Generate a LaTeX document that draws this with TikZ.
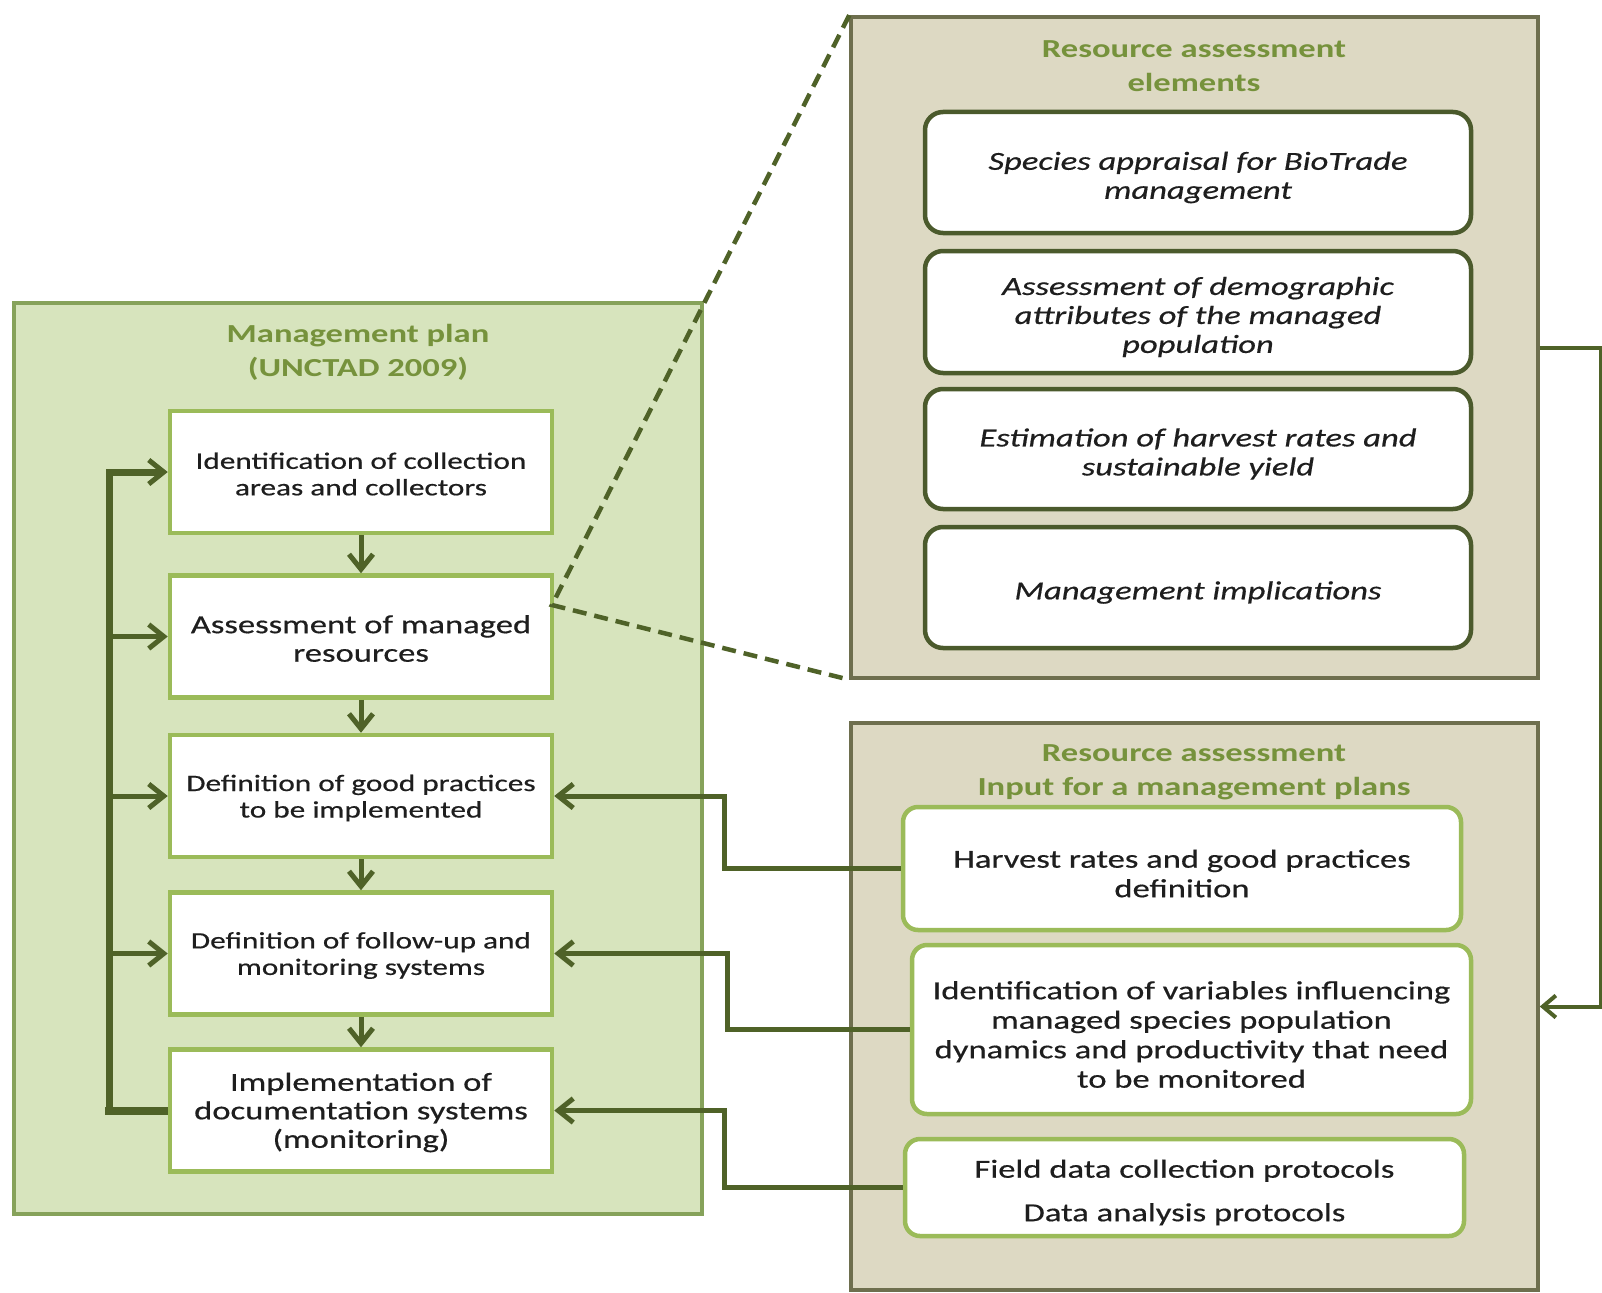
\documentclass[tikz,border=0pt]{standalone}
\usepackage{fontspec}
\setmainfont{Carlito}[FakeStretch=1.33, UprightFeatures={FakeBold=0.5}, ItalicFeatures={FakeBold=0.5}]
\usetikzlibrary{arrows.meta}
\definecolor{mgfill}{HTML}{D7E4BD}
\definecolor{mgline}{HTML}{86A25A}
\definecolor{rafill}{HTML}{DDD9C3}
\definecolor{raline}{HTML}{6E6F4E}
\definecolor{lgreen}{HTML}{9BBB59}
\definecolor{dgreen}{HTML}{4F6228}
\definecolor{ttl}{HTML}{76923C}
\definecolor{dkbox}{HTML}{4B5A2C}
\definecolor{txt}{HTML}{1E1E1E}
\begin{document}
\begin{tikzpicture}[x=1pt,y=-1pt,
  panel/.style={draw=#1, line width=3.5pt, inner sep=0pt},
  ptitle/.style={text=ttl, font=\bfseries\fontsize{26}{34}\selectfont, align=center, inner sep=0pt},
  mbox/.style={draw=lgreen, line width=4.5pt, fill=white, minimum width=382pt, minimum height=122pt},
  smalltxt/.style={font=\fontsize{23.5}{26.5}\selectfont, align=center, inner sep=0pt, text=txt, yshift=-2pt},
  largetxt/.style={font=\fontsize{26}{28.5}\selectfont, align=center, inner sep=0pt, text=txt, yshift=-2pt},
  ebox/.style={draw=dkbox, line width=4.5pt, rounded corners=18pt, fill=white, minimum width=546pt},
  etext/.style={font=\itshape\fontsize{26}{29}\selectfont, align=center, inner sep=0pt, text=txt, yshift=-5pt},
  ibox/.style={draw=lgreen, line width=4.5pt, rounded corners=15pt, fill=white, minimum width=559pt},
  itext/.style={font=\fontsize{26}{29.5}\selectfont, align=center, inner sep=0pt, text=txt, yshift=-5pt},
  conn/.style={draw=dgreen, line width=5pt, line join=miter,
    -{Straight Barb[length=15pt,width=24pt,line width=5pt]}},
  thinconn/.style={draw=dgreen, line width=4pt, line join=miter,
    -{Straight Barb[length=13pt,width=22pt,line width=4pt]}},
  dashline/.style={draw=dgreen, line width=4.5pt, dash pattern=on 14pt off 8pt}
]
\useasboundingbox (0,0) rectangle (1602,1292);
\clip (0,0) rectangle (1602,1292);
\fill[white] (0,0) rectangle (1602,1292);

% panels
\node[panel=mgline, fill=mgfill, minimum width=688pt, minimum height=911pt] (mg) at (358,758.5) {};
\node[panel=raline, fill=rafill, minimum width=687pt, minimum height=661pt] (tra) at (1194.5,347.5) {};
\node[panel=raline, fill=rafill, minimum width=687pt, minimum height=567pt] (rab) at (1194.5,1006.5) {};

% titles
\node[ptitle] (mgt) at (358,352) {Management plan\\(UNCTAD 2009)};
\node[ptitle] (trat) at (1194,66) {Resource assessment\\elements};
\node[ptitle] (rabt) at (1194,772) {Resource assessment\\Input for a management plans};

% left boxes
\node[mbox, label={[smalltxt]center:Identification of collection\\areas and collectors}] (b1) at (361,472) {};
\node[mbox, label={[largetxt]center:Assessment of managed\\resources}] (b2) at (361,636.5) {};
\node[mbox, label={[smalltxt]center:Definition of good practices\\to be implemented}] (b3) at (361,796) {};
\node[mbox, label={[smalltxt]center:Definition of follow-up and\\monitoring systems}] (b4) at (361,953.5) {};
\node[mbox, label={[largetxt]center:Implementation of\\documentation systems\\(monitoring)}] (b5) at (361,1110.5) {};

% top-right boxes
\node[ebox, minimum height=121pt, label={[etext]center:Species appraisal for BioTrade\\management}] (ea) at (1198,172.5) {};
\node[ebox, minimum height=122pt, label={[etext]center:Assessment of demographic\\attributes of the managed\\population}] (eb) at (1198,312) {};
\node[ebox, minimum height=120pt, label={[etext]center:Estimation of harvest rates and\\sustainable yield}] (ec) at (1198,449) {};
\node[ebox, minimum height=121pt, label={[etext]center:Management implications}] (ed) at (1198,587.5) {};

% bottom-right boxes
\node[ibox, minimum width=558pt, minimum height=123pt, label={[itext]center:Harvest rates and good practices\\definition}] (ra1) at (1182,868.5) {};
\node[ibox, minimum height=169pt, label={[itext]center:Identification of variables influencing\\managed species population\\dynamics and productivity that need\\to be monitored}] (ra2) at (1191.5,1029.5) {};
\node[ibox, minimum height=97pt, label={[itext]center:Field data collection protocols\\[14pt]Data analysis protocols}] (ra3) at (1184.5,1187.5) {};

% dashed zoom lines
\coordinate (dz) at (552,605);
\draw[dashline] (tra.north west) -- (dz) -- (tra.south west);

% down arrows
\draw[conn] (b1.south) -- (b2.north);
\draw[conn] (b2.south) -- (b3.north);
\draw[conn] (b3.south) -- (b4.north);
\draw[conn] (b4.south) -- (b5.north);

% feedback loop
\coordinate (fb) at (109,1110.5);
\draw[dgreen, line width=8pt] (b5.west) -- ([xshift=-4pt]fb);
\draw[conn, line width=7pt] (fb) |- (b1.west);
\draw[conn] (fb |- b2.west) -- (b2.west);
\draw[conn] (fb |- b3.west) -- (b3.west);
\draw[conn] (fb |- b4.west) -- (b4.west);

% inputs from right panel
\draw[conn] (ra1.west) -- ++(-176,0) |- (b3.east);
\draw[conn] (ra2.west) -- ++(-182,0) |- (b4.east);
\draw[conn] (ra3.west) -- ++(-178,0) |- (b5.east);

% right link
\draw[thinconn] (tra.east) -- ++(61,0) |- (rab.east);
\end{tikzpicture}
\end{document}
